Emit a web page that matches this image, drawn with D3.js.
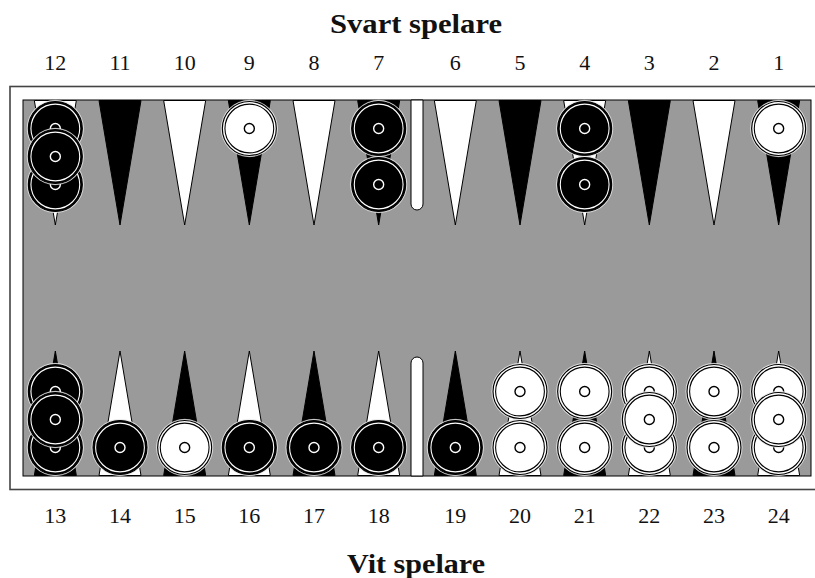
<!DOCTYPE html>
<html>
<head>
<meta charset="utf-8">
<script src="https://cdn.jsdelivr.net/npm/d3@7"></script>
<style>
  html, body { margin: 0; padding: 0; background: #fff; }
  svg { display: block; }
  text { font-family: "Liberation Serif", "DejaVu Serif", serif; fill: #111; }
</style>
</head>
<body>
<svg id="chart" width="815" height="578"></svg>
<script>
// ---- data ----
const topLeftPoints = [12, 11, 10, 9, 8, 7];
const topRightPoints = [6, 5, 4, 3, 2, 1];
const bottomLeftPoints = [13, 14, 15, 16, 17, 18];
const bottomRightPoints = [19, 20, 21, 22, 23, 24];
const checkerPoints = [12, 9, 7, 4, 1, 13, 14, 15, 16, 17, 18, 19, 20, 21, 22, 23, 24];
const checkerCounts = [3, 1, 2, 2, 1, 3, 1, 1, 1, 1, 1, 1, 2, 2, 3, 2, 3];
const checkerColors = ["black", "white", "black", "black", "white", "black", "black", "white", "black", "black", "black", "black", "white", "white", "white", "white", "white"];
const stackSlots = [0, 1, 0.5];
const topTitle = "Svart spelare";
const bottomTitle = "Vit spelare";

// ---- layout ----
const svg = d3.select("#chart");
const board = { x0: 23, x1: 811, y0: 100, y1: 476 };
const barW = 12;
const barX0 = (board.x0 + board.x1) / 2 - barW / 2;
const barX1 = barX0 + barW;
const triHalf = 21, triLen = 125, R = 27;

const xLeftTop = d3.scaleBand().domain(topLeftPoints).range([board.x0, barX0]);
const xRightTop = d3.scaleBand().domain(topRightPoints).range([barX1, board.x1]);
const xLeftBot = d3.scaleBand().domain(bottomLeftPoints).range([board.x0, barX0]);
const xRightBot = d3.scaleBand().domain(bottomRightPoints).range([barX1, board.x1]);
function px(p) {
  const s = [xLeftTop, xRightTop, xLeftBot, xRightBot].find(sc => sc.domain().includes(p));
  return s(p) + s.bandwidth() / 2;
}
const isTop = p => p <= 12;
const yTop = d3.scaleLinear().domain([0, 1]).range([board.y0 + 28.5, board.y0 + 84.5]);
const yBot = d3.scaleLinear().domain([0, 1]).range([board.y1 - 28.5, board.y1 - 84.5]);

// outer frame
svg.append("rect").attr("x", 10).attr("y", 86.5).attr("width", 814).attr("height", 403)
  .attr("fill", "#fff").attr("stroke", "#444").attr("stroke-width", 1.6);
// playing area
svg.append("rect").attr("x", board.x0).attr("y", board.y0)
  .attr("width", board.x1 - board.x0).attr("height", board.y1 - board.y0)
  .attr("fill", "#9a9a9a").attr("stroke", "#000").attr("stroke-width", 1);

// triangles
const allPoints = d3.range(1, 25);
svg.append("g").selectAll("path").data(allPoints).join("path")
  .attr("d", p => {
    const cx = px(p);
    if (isTop(p)) {
      return `M${cx - triHalf},${board.y0 + 0.5}L${cx + triHalf},${board.y0 + 0.5}L${cx},${board.y0 + triLen}Z`;
    }
    return `M${cx - triHalf},${board.y1 - 0.5}L${cx + triHalf},${board.y1 - 0.5}L${cx},${board.y1 - triLen}Z`;
  })
  .attr("fill", p => p % 2 === 0 ? "#fff" : "#000")
  .attr("stroke", "#000").attr("stroke-width", 1).attr("stroke-linejoin", "miter");

// bar
const br = barW / 2;
svg.append("path")
  .attr("d", `M${barX0},${board.y0}L${barX1},${board.y0}L${barX1},${210 - br}A${br},${br} 0 0 1 ${barX0},${210 - br}Z`)
  .attr("fill", "#fff").attr("stroke", "#000").attr("stroke-width", 1);
svg.append("path")
  .attr("d", `M${barX0},${board.y1}L${barX1},${board.y1}L${barX1},${357 + br}A${br},${br} 0 0 0 ${barX0},${357 + br}Z`)
  .attr("fill", "#fff").attr("stroke", "#000").attr("stroke-width", 1);

// checkers
const checkers = [];
checkerPoints.forEach((p, i) => {
  for (let k = 0; k < checkerCounts[i]; k++) {
    const slot = stackSlots[k];
    checkers.push({ p, color: checkerColors[i], x: px(p), y: isTop(p) ? yTop(slot) : yBot(slot) });
  }
});
const cg = svg.append("g").selectAll("g").data(checkers).join("g")
  .attr("transform", d => `translate(${d.x},${d.y})`);
cg.append("circle").attr("r", R + 1.2).attr("fill", "#fff").attr("stroke", "#ddd").attr("stroke-width", 0.6);
cg.append("circle").attr("r", R)
  .attr("fill", d => d.color === "black" ? "#000" : "#fff")
  .attr("stroke", "#000").attr("stroke-width", 1.2);
cg.append("circle").attr("r", R - 2.6).attr("fill", "none")
  .attr("stroke", d => d.color === "black" ? "#fff" : "#000").attr("stroke-width", 1.1);
cg.append("circle").attr("r", 5)
  .attr("fill", d => d.color === "black" ? "#000" : "#fff")
  .attr("stroke", d => d.color === "black" ? "#fff" : "#000").attr("stroke-width", 1.4);

// labels
svg.append("g").selectAll("text").data(allPoints).join("text")
  .attr("x", p => px(p))
  .attr("y", p => isTop(p) ? 70 : 523)
  .attr("text-anchor", "middle")
  .attr("font-size", 22)
  .text(p => p);
svg.append("text").attr("x", 416).attr("y", 33).attr("text-anchor", "middle")
  .attr("font-size", 27).attr("font-weight", "bold")
  .attr("textLength", 172).attr("lengthAdjust", "spacingAndGlyphs").text(topTitle);
svg.append("text").attr("x", 416).attr("y", 573).attr("text-anchor", "middle")
  .attr("font-size", 27).attr("font-weight", "bold")
  .attr("textLength", 138).attr("lengthAdjust", "spacingAndGlyphs").text(bottomTitle);
</script>
</body>
</html>
